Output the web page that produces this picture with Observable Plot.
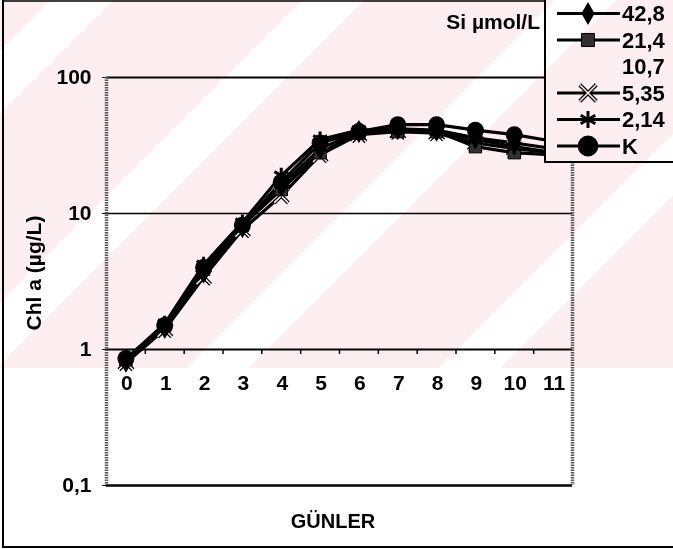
<!DOCTYPE html>
<html>
<head>
<meta charset="utf-8">
<script src="https://cdn.jsdelivr.net/npm/d3@7"></script>
<script src="https://cdn.jsdelivr.net/npm/@observablehq/plot@0.6"></script>
<style>
  body { margin: 0; background: #fff; }
  #chart { position: relative; width: 673px; height: 549px; overflow: hidden;
           font-family: "Liberation Sans", Arial, sans-serif; }
  #legend { position: absolute; left: 544px; top: -12px; }
  #wash { position: absolute; left: 0; top: 0; width: 673px; height: 368px; pointer-events: none;
          mix-blend-mode: multiply;
          background: repeating-linear-gradient(135deg, #fdeef1 0 36px, #fff 36px 80px, #fdeef1 80px 178px); }
</style>
</head>
<body>
<div id="chart"></div>
<script>
// Days of the experiment (x categories)
const days = [0, 1, 2, 3, 4, 5, 6, 7, 8, 9, 10, 11];

// Chlorophyll a (µg/L) for each Si treatment (µmol/L)
const chl_42_8 = [0.82, 1.45, 3.7, 8.0, 16, 30, 40, 42, 41, 36, 33, 30];
const chl_21_4 = [0.84, 1.5, 3.9, 8.2, 15, 28, 39, 40, 40, 31, 28, 27];
const chl_5_35 = [0.80, 1.4, 3.4, 7.6, 13.5, 27, 38, 40, 39, 33, 30, 28];
const chl_2_14 = [0.85, 1.55, 4.2, 8.6, 19, 35, 41, 41, 40, 35, 31, 28];
const chl_K    = [0.86, 1.5, 4.0, 8.2, 17, 33, 40, 45, 45, 41, 38, 34];

// Legend entries, in order (10,7 has no drawn series)
const legendLabels = ["42,8", "21,4", "10,7", "5,35", "2,14", "K"];

// Y axis ticks and their labels
const yTicks = [0.1, 1, 10, 100];
const yTickLabels = ["0,1", "1", "10", "100"];

const series = [
  {name: "5,35", values: chl_5_35},
  {name: "21,4", values: chl_21_4},
  {name: "42,8", values: chl_42_8},
  {name: "2,14", values: chl_2_14},
  {name: "K",    values: chl_K}
];
const rows = series.flatMap(s => s.values.map((v, i) => ({day: days[i], chl: v, name: s.name})));
const of = name => rows.filter(r => r.name === name);

const font = '"Liberation Sans", Arial, sans-serif';
const tickPos = days.slice(0, -1).map(d => d + 0.5);

const chart = Plot.plot({
  width: 673,
  height: 549,
  marginLeft: 106,
  marginRight: 101,
  marginTop: 77,
  marginBottom: 64,
  style: {fontFamily: font, fontSize: "21px", fontWeight: "bold", color: "#000", background: "transparent", overflow: "visible"},
  x: {domain: [-0.5, 11.5], axis: null},
  y: {
    type: "log", domain: [0.1, 100], ticks: yTicks,
    tickFormat: d => yTickLabels[yTicks.indexOf(d)],
    tickSize: 4, tickPadding: 11, label: null
  },
  marks: [
    Plot.ruleY([10], {stroke: "#000", strokeWidth: 1.5}),
    Plot.ruleY([100], {stroke: "#000", strokeWidth: 2}),
    Plot.ruleY([0.1], {stroke: "#000", strokeWidth: 2.5}),
    Plot.ruleY([1], {stroke: "#000", strokeWidth: 2}),
    Plot.ruleX([-0.5, 11.5], {stroke: "#555", strokeWidth: 3.5, strokeDasharray: "1.5,1"}),
    Plot.ruleX(tickPos, {y1: 1, y2: 0.92, stroke: "#000", strokeWidth: 1.5}),
    Plot.text(days, {x: d => d, y: () => 1, text: d => String(d), dy: 34, dx: 1,
                     fontSize: 21, fontWeight: "bold", fill: "#000"}),
    // series lines
    Plot.line(rows, {x: "day", y: "chl", z: "name", stroke: "#000", strokeWidth: 3.2, strokeLinejoin: "round"}),
    // markers
    Plot.dot(of("5,35"), {x: "day", y: "chl", symbol: "times", r: 6.5, stroke: "#000", strokeWidth: 4}),
    Plot.dot(of("5,35"), {x: "day", y: "chl", symbol: "times", r: 6.5, stroke: "#fff", strokeWidth: 1.5}),
    Plot.dot(of("21,4"), {x: "day", y: "chl", symbol: "square", r: 7, fill: "#333", stroke: "#000", strokeWidth: 1}),
    Plot.dot(of("42,8"), {x: "day", y: "chl", symbol: "diamond", r: 7, fill: "#000"}),
    Plot.dot(of("2,14"), {x: "day", y: "chl", symbol: "asterisk", r: 7.5, stroke: "#000", strokeWidth: 3}),
    Plot.dot(of("K"),    {x: "day", y: "chl", symbol: "circle", r: 8.5, fill: "#000"})
  ]
});

const root = document.getElementById("chart");
root.appendChild(chart);

// Titles and outer border
const svg = d3.select(chart);
const label = (x, y, txt, size, anchor, rotate) => svg.append("text")
  .attr("transform", `translate(${x},${y})` + (rotate ? ` rotate(${rotate})` : ""))
  .attr("text-anchor", anchor).attr("dominant-baseline", "central")
  .attr("font-family", font).attr("font-size", size).attr("font-weight", "bold")
  .attr("fill", "#000").text(txt);
label(33, 273, "Chl a (µg/L)", 21, "middle", -90);
label(333, 521, "GÜNLER", 20, "middle");
label(540, 21, "Si µmol/L", 21, "end");

svg.append("line").attr("x1", 3).attr("x2", 3).attr("y1", 0).attr("y2", 548).attr("stroke", "#000").attr("stroke-width", 2);
svg.append("line").attr("x1", 3).attr("x2", 545).attr("y1", 1).attr("y2", 1).attr("stroke", "#000").attr("stroke-width", 1.5);
svg.append("line").attr("x1", 3).attr("x2", 673).attr("y1", 547).attr("y2", 547).attr("stroke", "#000").attr("stroke-width", 2);

// Legend box
const legendStyles = {
  "42,8": {type: d3.symbolDiamond, size: 150, fill: "#000"},
  "21,4": {type: d3.symbolSquare, size: 170, fill: "#333", stroke: "#000"},
  "10,7": null,
  "5,35": {type: d3.symbolTimes, size: 180, stroke: "#000", strokeWidth: 4, inner: "#fff"},
  "2,14": {type: d3.symbolAsterisk, size: 200, stroke: "#000", strokeWidth: 3},
  "K":    {type: d3.symbolCircle, size: 340, fill: "#000"}
};
const lg = d3.create("svg").attr("width", 140).attr("height", 176)
  .attr("font-family", font).attr("font-weight", "bold").attr("font-size", 22);
lg.append("rect").attr("x", 1).attr("y", 1).attr("width", 160).attr("height", 173)
  .attr("fill", "#fff").attr("stroke", "#000").attr("stroke-width", 2);
legendLabels.forEach((name, i) => {
  const cy = 25.5 + i * 26.5;
  const st = legendStyles[name];
  const g = lg.append("g").attr("transform", `translate(0,${cy})`);
  if (st) {
    g.append("line").attr("x1", 13).attr("x2", 76).attr("stroke", "#000").attr("stroke-width", 3);
    g.append("path").attr("transform", "translate(44,0)")
      .attr("d", d3.symbol(st.type, st.size)())
      .attr("fill", st.fill || "none").attr("stroke", st.stroke || "none")
      .attr("stroke-width", st.strokeWidth || 1);
    if (st.inner) {
      g.append("path").attr("transform", "translate(44,0)")
        .attr("d", d3.symbol(st.type, st.size)())
        .attr("fill", "none").attr("stroke", st.inner).attr("stroke-width", 1.5);
    }
  }
  g.append("text").attr("x", 78).attr("dominant-baseline", "central").attr("fill", "#000").text(name);
});
const legendDiv = document.createElement("div");
legendDiv.id = "legend";
legendDiv.appendChild(lg.node());
root.appendChild(legendDiv);

// Light pink background wash over the upper part of the page
const wash = document.createElement("div");
wash.id = "wash";
root.appendChild(wash);
</script>
</body>
</html>
